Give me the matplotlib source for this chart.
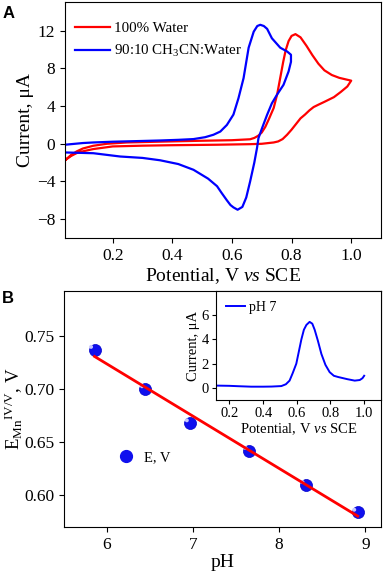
import numpy as np
import matplotlib
matplotlib.use("Agg")
import matplotlib.pyplot as plt
from matplotlib.lines import Line2D

plt.rcParams['font.family'] = ['Liberation Serif', 'DejaVu Serif']
plt.rcParams['mathtext.fontset'] = 'custom'
plt.rcParams['mathtext.rm'] = 'Liberation Serif'
plt.rcParams['mathtext.it'] = 'Liberation Serif:italic'
plt.rcParams['mathtext.bf'] = 'Liberation Serif:bold'
plt.rcParams['axes.unicode_minus'] = True

# ---------------- Panel A data (CV loops) ----------------
red_x = [0.04, 0.06, 0.079, 0.1, 0.135, 0.18, 0.247, 0.35, 0.494, 0.6, 0.661, 0.675, 0.688,
         0.7, 0.712, 0.725, 0.74, 0.752, 0.762, 0.772, 0.78, 0.79, 0.8, 0.813, 0.83, 0.85,
         0.87, 0.89, 0.91, 0.935, 0.96, 0.98, 1.0,
         0.987, 0.965, 0.942, 0.91, 0.89, 0.874, 0.86, 0.845, 0.83, 0.815, 0.8, 0.785, 0.77,
         0.755, 0.74, 0.7, 0.661, 0.55, 0.4, 0.3, 0.2, 0.135, 0.1, 0.079, 0.06, 0.04]
red_y = [-1.75, -1.2, -0.81, -0.5, -0.21, 0.0, 0.14, 0.22, 0.32, 0.38, 0.48, 0.62, 0.85,
         1.2, 1.8, 2.7, 3.8, 5.3, 7.0, 8.7, 9.9, 10.9, 11.45, 11.64, 11.3, 10.4,
         9.4, 8.5, 7.8, 7.3, 7.0, 6.85, 6.7,
         6.08, 5.5, 4.95, 4.45, 4.15, 3.9, 3.55, 3.1, 2.7, 2.1, 1.5, 0.96, 0.5,
         0.25, 0.14, 0.0, -0.04, -0.1, -0.15, -0.2, -0.28, -0.56, -0.8, -0.99, -1.3, -1.75]

blue_x = [0.04, 0.1, 0.135, 0.2, 0.3, 0.359, 0.42, 0.471, 0.51, 0.538, 0.561, 0.583, 0.605,
          0.622, 0.639, 0.656, 0.673, 0.685, 0.695, 0.707, 0.718, 0.734, 0.762, 0.785, 0.798,
          0.798, 0.79, 0.773, 0.751, 0.734, 0.718, 0.701, 0.689, 0.684, 0.675, 0.661,
          0.648, 0.635, 0.619, 0.605, 0.595, 0.583, 0.565, 0.55, 0.52, 0.471, 0.42, 0.359,
          0.3, 0.225, 0.135, 0.04]
blue_y = [-0.1, 0.08, 0.14, 0.22, 0.3, 0.35, 0.42, 0.5, 0.7, 0.96, 1.3, 2.0, 3.1,
          4.85, 6.97, 10.2, 11.9, 12.5, 12.63, 12.5, 12.2, 11.2, 10.2, 9.8, 9.45,
          8.7, 7.68, 6.26, 5.2, 4.3, 3.08, 1.66, 0.6, -0.46, -2.0, -4.0,
          -5.7, -6.7, -7.0, -6.75, -6.5, -6.0, -5.2, -4.5, -3.7, -2.76, -2.15, -1.75,
          -1.5, -1.35, -1.0, -0.92]

# ---------------- Panel B data ----------------
ph = [5.86, 6.45, 6.97, 7.65, 8.31, 8.91]
e_v = [0.737, 0.700, 0.668, 0.642, 0.610, 0.584]

# inset DPV at pH 7
dpv_x = [0.12, 0.2, 0.25, 0.329, 0.4, 0.45, 0.508, 0.535, 0.557, 0.575, 0.597, 0.612, 0.627,
         0.642, 0.657, 0.676, 0.692, 0.706, 0.725, 0.746, 0.77, 0.795, 0.82, 0.845, 0.9,
         0.944, 0.974, 0.99, 1.0]
dpv_y = [0.19, 0.17, 0.14, 0.1, 0.1, 0.11, 0.15, 0.3, 0.6, 1.2, 2.0, 3.0, 4.0,
         4.8, 5.2, 5.45, 5.3, 4.8, 3.9, 2.8, 1.9, 1.3, 1.0, 0.9, 0.72,
         0.6, 0.65, 0.8, 1.0]

W, H = 384, 571
fig = plt.figure(figsize=(W / 100, H / 100), dpi=100)

def fr(l, t, r, b):
    return [l / W, 1 - b / H, (r - l) / W, (b - t) / H]

tick_fs = 12.5
lab_fs = 14

# ---------------- Panel A ----------------
axA = fig.add_axes(fr(65, 2, 381, 238))
axA.plot(red_x, red_y, color='#ff0000', lw=1.6, label='100% Water')
axA.plot(blue_x, blue_y, color='#0000ff', lw=1.6, label='90:10 CH$_3$CN:Water')
axA.set_xlim(0.04, 1.10)
axA.set_ylim(-10, 15.05)
axA.set_xticks([0.2, 0.4, 0.6, 0.8, 1.0])
axA.set_yticks([-8, -4, 0, 4, 8, 12])
axA.tick_params(labelsize=tick_fs, direction='out', length=3.5, width=0.8)
axA.set_xlabel('Potential, V $\\mathit{vs}$ SCE', fontsize=lab_fs, labelpad=2)
axA.set_ylabel('Current, μA', fontsize=lab_fs, labelpad=2)
axA.legend(loc='upper left', bbox_to_anchor=(-0.022, 0.991), frameon=False, fontsize=10.8,
           handlelength=2.3, handletextpad=0.3, labelspacing=0.55, borderaxespad=0.8,
           borderpad=0.35)
fig.text(3 / W, 1 - 18 / H, 'A', fontsize=12, fontweight='bold', family='Liberation Sans',
         va='baseline')

# ---------------- Panel B ----------------
axB = fig.add_axes(fr(64.3, 291, 381, 527.3))
coef = np.polyfit(ph, e_v, 1)
fx = np.array([min(ph), max(ph)])
axB.scatter(ph, e_v, s=75, color='#1010ee', edgecolors='#0000cc', linewidths=0.5, zorder=2,
            label='E, V')
axB.scatter(np.array(ph) - 0.04, np.array(e_v) + 0.0025, s=8, color='#c8c8ff',
            edgecolors='none', zorder=3)
axB.plot(fx, np.polyval(coef, fx), color='#ff0000', lw=2.0, zorder=4)
axB.set_xlim(5.51, 9.18)
axB.set_ylim(0.570, 0.792)
axB.set_xticks([6, 7, 8, 9])
axB.set_yticks([0.60, 0.65, 0.70, 0.75])
axB.set_yticklabels(['0.60', '0.65', '0.70', '0.75'])
axB.tick_params(labelsize=tick_fs, direction='out', length=3.5, width=0.8)
axB.set_xlabel('pH', fontsize=lab_fs, labelpad=1)
axB.set_ylabel('$\\mathregular{E_{Mn}}^{\\mathregular{IV/V}}$, V', fontsize=13.5)
axB.yaxis.set_label_coords((25 - 64.3) / 316.7, 0.5)
hB = [Line2D([], [], ls='none', marker='o', markersize=8.5, color='#1010ee')]
axB.legend(hB, ['E, V'], loc='center left', bbox_to_anchor=(0.172, 0.297), frameon=False,
           fontsize=10.5, handlelength=1.0, handletextpad=0.7, borderaxespad=0, borderpad=0)
fig.text(2 / W, 1 - 303 / H, 'B', fontsize=12, fontweight='bold', family='Liberation Sans',
         va='baseline')

# ---------------- Inset ----------------
axI = fig.add_axes(fr(216, 291, 381, 400))
axI.plot(dpv_x, dpv_y, color='#0000ff', lw=1.4, label='pH 7')
axI.set_xlim(0.12, 1.10)
axI.set_ylim(-1.0, 8.0)
axI.set_xticks([0.2, 0.4, 0.6, 0.8, 1.0])
axI.set_yticks([0, 2, 4, 6])
axI.tick_params(labelsize=10.5, direction='out', length=3, width=0.8, pad=2)
axI.set_xlabel('Potential, V $\\mathit{vs}$ SCE', fontsize=10.5, labelpad=1)
axI.set_ylabel('Current, μA', fontsize=10.5, labelpad=1)
axI.legend(loc='upper left', frameon=False, fontsize=10, handlelength=1.4,
           handletextpad=0.3, borderaxespad=0.3)

fig.savefig('out.png', dpi=100)
